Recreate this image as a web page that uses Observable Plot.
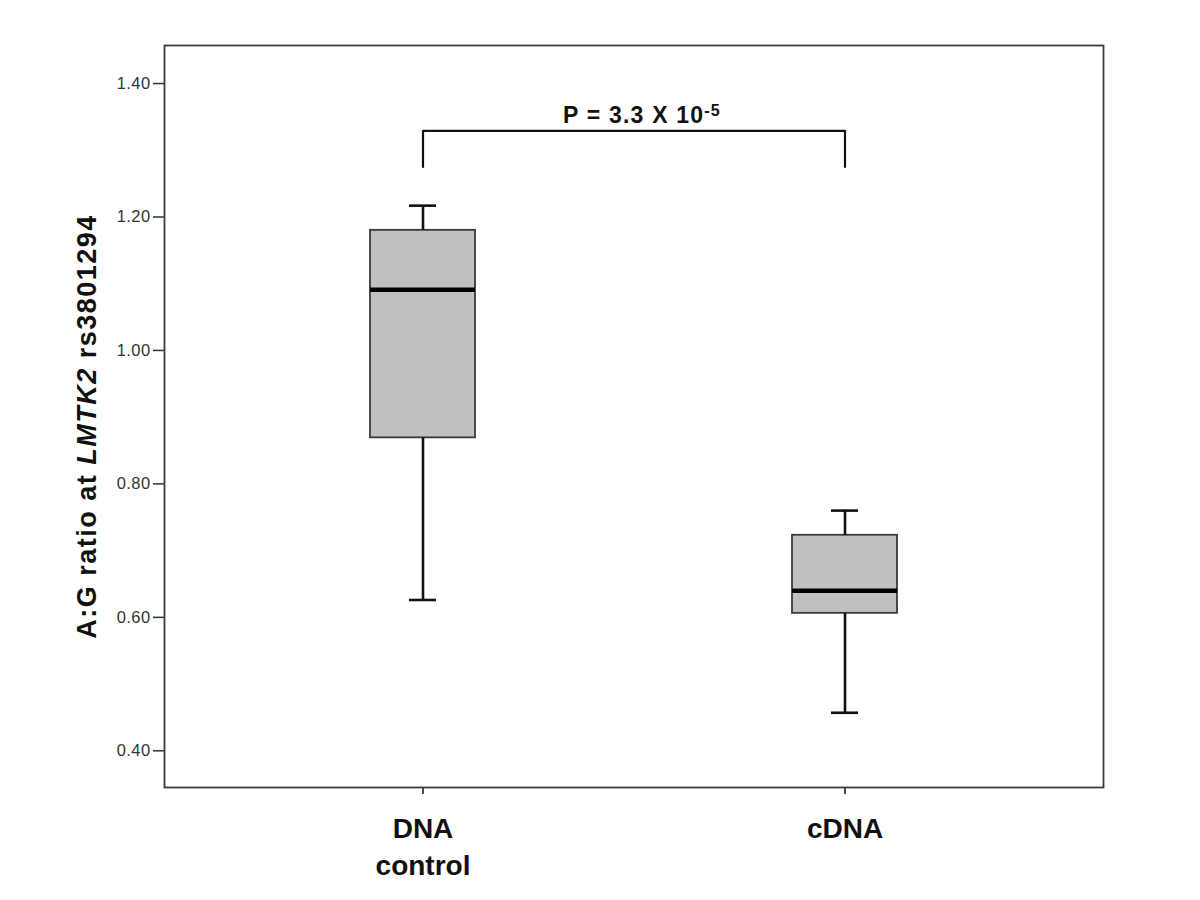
<!DOCTYPE html>
<html><head><meta charset="utf-8">
<script src="https://cdn.jsdelivr.net/npm/d3@7"></script>
<script src="https://cdn.jsdelivr.net/npm/@observablehq/plot@0.6"></script>
<style>
body{margin:0;background:#fff}
svg{display:block}
g[aria-label="y-axis tick label"]{font-size:16.5px !important}
g[aria-label="y-axis tick label"] text{letter-spacing:0.4px;font-size:16.5px !important}
</style>
</head><body><div id="chart"></div>
<script>
const groups = ["DNA control", "cDNA"];
const groupLabels = ["DNA\ncontrol", "cDNA"];
const whiskerLow = [0.626, 0.457];
const q1 = [0.869, 0.606];
const median = [1.091, 0.640];
const q3 = [1.180, 0.723];
const whiskerHigh = [1.217, 0.760];
const yTicks = [0.40, 0.60, 0.80, 1.00, 1.20, 1.40];
const yDomain = [0.345, 1.457];
const bracketTop = 1.329;
const bracketBottom = 1.275;
const pLabel = "P = 3.3 X 10";
const pExponent = "-5";
const yLabelParts = ["A:G ratio at ", "LMTK2", " rs3801294"];

const boxes = groups.map((g, i) => ({group: g, lo: whiskerLow[i], q1: q1[i], med: median[i], q3: q3[i], hi: whiskerHigh[i]}));
const bracket = [
  {group: groups[0], y: bracketBottom},
  {group: groups[0], y: bracketTop},
  {group: groups[1], y: bracketTop},
  {group: groups[1], y: bracketBottom}
];
const yLabel = yLabelParts.join("");

const chart = Plot.plot({
  width: 1200,
  height: 900,
  marginLeft: 164,
  marginRight: 97,
  marginTop: 45,
  marginBottom: 113,
  style: {fontFamily: "'Liberation Sans', Arial, sans-serif", background: "#fff", color: "#222"},
  x: {type: "band", domain: groups, paddingInner: 0.7515, paddingOuter: 0.488, label: null},
  y: {domain: yDomain, label: null},
  marks: [
    Plot.barY(boxes, {x: "group", y1: "q1", y2: "q3", fill: "#c0c0c0", stroke: "#3a3a3a", strokeWidth: 1.8}),
    Plot.ruleX(boxes, {x: "group", y1: "q3", y2: "hi", stroke: "#111", strokeWidth: 2.6}),
    Plot.ruleX(boxes, {x: "group", y1: "lo", y2: "q1", stroke: "#111", strokeWidth: 2.6}),
    Plot.tickY(boxes, {x: "group", y: "hi", insetLeft: 39, insetRight: 39, stroke: "#111", strokeWidth: 2.6}),
    Plot.tickY(boxes, {x: "group", y: "lo", insetLeft: 39, insetRight: 39, stroke: "#111", strokeWidth: 2.6}),
    Plot.tickY(boxes, {x: "group", y: "med", stroke: "#000", strokeWidth: 4.5}),
    Plot.line(bracket, {x: "group", y: "y", stroke: "#111", strokeWidth: 2.2}),
    Plot.text([pLabel], {text: d => d, y: () => bracketTop, dy: -8, dx: 8, lineAnchor: "bottom", fontSize: 23, fontWeight: "bold", fill: "#111"}),
    Plot.text([yLabel], {text: d => d, frameAnchor: "left", textAnchor: "middle", rotate: -90, dx: -69, dy: 10, lineAnchor: "bottom", fontSize: 27, fontWeight: "bold", fill: "#111"}),
    Plot.axisY(yTicks, {tickFormat: d3.format(".2f"), tickSize: 11, tickPadding: 3, fontSize: 16.5, color: "#333", strokeWidth: 1.5, label: null}),
    Plot.axisX({tickFormat: d => groupLabels[groups.indexOf(d)], tickSize: 7, tickPadding: 17, fontSize: 28, fontWeight: "bold", lineHeight: 1.32, lineAnchor: "top", color: "#111", strokeWidth: 1.5, label: null}),
    Plot.frame({stroke: "#3a3a3a", strokeWidth: 1.8})
  ]
});

// superscript exponent and italic gene name
for (const t of chart.querySelectorAll("text")) {
  if (t.textContent === pLabel) {
    t.style.letterSpacing = "1.2px";
    const sup = document.createElementNS("http://www.w3.org/2000/svg", "tspan");
    sup.setAttribute("dy", "-7");
    sup.setAttribute("font-size", "16");
    sup.textContent = pExponent;
    t.appendChild(sup);
  } else if (t.textContent === yLabel) {
    t.textContent = "";
    t.style.letterSpacing = "1.5px";
    yLabelParts.forEach((part, i) => {
      const ts = document.createElementNS("http://www.w3.org/2000/svg", "tspan");
      if (i === 1) ts.setAttribute("font-style", "italic");
      ts.textContent = part;
      t.appendChild(ts);
    });
  }
}
document.getElementById("chart").appendChild(chart);
</script>
</body></html>
